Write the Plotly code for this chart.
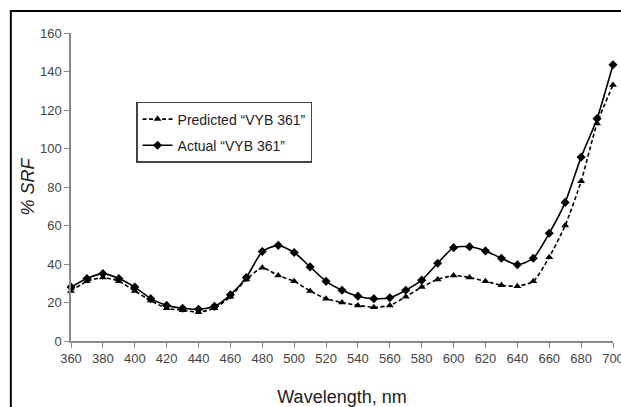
import plotly.graph_objects as go

# Wavelength grid (nm)
wavelength = list(range(360, 701, 10))

# Spectral reflectance factor, % SRF
predicted = [26, 31, 33, 31, 26, 21, 17, 16, 15, 17,
             23, 32, 38, 34, 31, 26, 22, 20, 18.5, 17.5,
             18.5, 23, 28, 32, 34, 33, 31, 29, 28.5, 31,
             43.5, 60, 83, 113, 133]
actual = [28, 32.5, 35, 32.5, 28, 22, 18.5, 17, 16.5, 18,
          24, 33, 46.5, 49.7, 46, 38.5, 31, 26.4, 23.3, 22,
          22.5, 26.4, 31.6, 40.4, 48.5, 49, 46.8, 43, 39.6, 43,
          56, 72, 95.5, 115.5, 143.5]

x_ticks = list(range(360, 701, 20))
y_ticks = list(range(0, 161, 20))

font_family = "Liberation Sans, Arial, sans-serif"

fig = go.Figure()

fig.add_trace(go.Scatter(
    x=wavelength, y=predicted, mode="lines+markers",
    name="Predicted \u201cVYB 361\u201d",
    legendgroup="pred",
    line=dict(color="black", width=1.6, dash="4px,2.5px", shape="spline", smoothing=0.6),
    marker=dict(symbol="triangle-up", size=7, color="black"),
    cliponaxis=False,
))

fig.add_trace(go.Scatter(
    x=wavelength, y=actual, mode="lines+markers",
    name="Actual \u201cVYB 361\u201d",
    legendgroup="act",
    line=dict(color="black", width=1.6, shape="spline", smoothing=0.6),
    marker=dict(symbol="diamond", size=7, color="black"),
    cliponaxis=False,
))

axis_color = "#8a8a8a"

fig.update_xaxes(
    range=[360, 700], tickvals=x_ticks, ticktext=[str(v) for v in x_ticks],
    showline=True, linecolor=axis_color, linewidth=1.5,
    ticks="outside", ticklen=5, tickcolor=axis_color, tickwidth=1.2,
    showgrid=False, zeroline=False, ticklabeloverflow="allow", automargin=False,
    tickfont=dict(family=font_family, size=13, color="#444"),
    title=dict(text="Wavelength, nm", font=dict(family=font_family, size=18, color="#222"), standoff=29),
)

fig.update_yaxes(
    range=[0, 160], tickvals=y_ticks,
    showline=True, linecolor=axis_color, linewidth=1.5,
    ticks="outside", ticklen=5, tickcolor=axis_color, tickwidth=1.2,
    showgrid=False, zeroline=False, automargin=False,
    tickfont=dict(family=font_family, size=13, color="#444"),
    title=dict(text="<i>% SRF</i>", font=dict(family=font_family, size=18, color="#222"), standoff=1),
)

fig.update_layout(
    width=621, height=407,
    margin=dict(l=71, r=8, t=33, b=66, autoexpand=False),
    paper_bgcolor="white", plot_bgcolor="white",
    showlegend=True,
    legend=dict(
        x=0.12, y=0.776, xanchor="left", yanchor="top",
        bgcolor="white", bordercolor="#444", borderwidth=1.5,
        font=dict(family=font_family, size=14, color="#222"),
        traceorder="grouped", tracegroupgap=5,
    ),
    shapes=[dict(
        type="rect", xref="paper", yref="paper",
        x0=-0.111, x1=1.2, y0=-0.4, y1=1.0714,
        line=dict(color="black", width=2), fillcolor="rgba(0,0,0,0)",
        layer="above",
    )],
)

fig.write_html("out.html")
